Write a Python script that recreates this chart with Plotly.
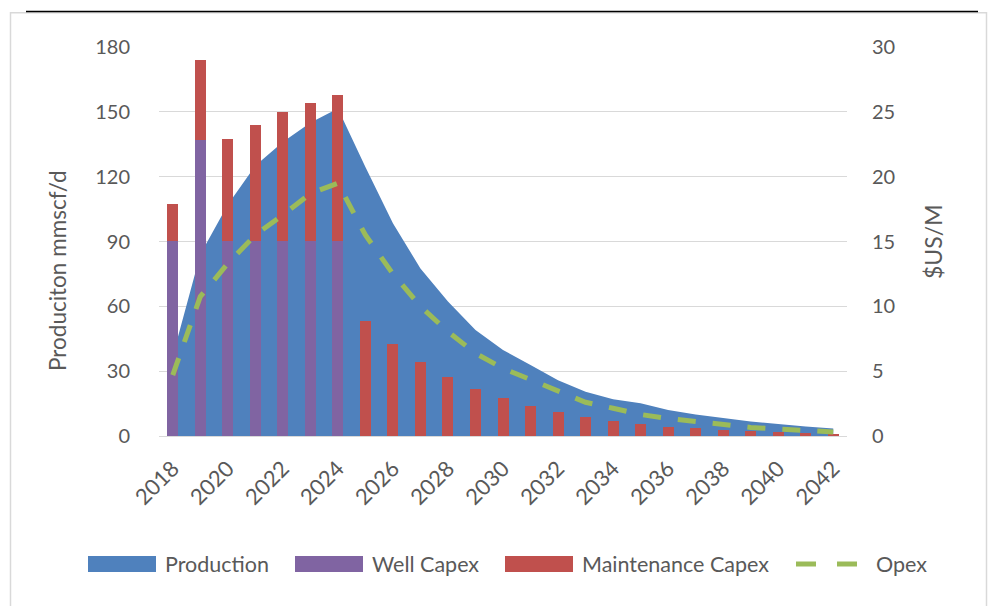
import plotly.graph_objects as go

years = list(range(2018, 2043))
production = [37, 84, 107, 125, 136, 145, 151.5, 124.5, 98.5, 77.5, 62.2, 49.1, 39.8, 32.9,
              25.8, 20.5, 17.0, 15.1, 12.0, 10.0, 8.3, 6.7, 5.5, 4.4, 3.5]
well_capex = [15.05, 22.8, 15.05, 15.05, 15.05, 15.05, 15.05] + [0] * 18
maint_capex = [2.85, 6.2, 7.85, 8.95, 9.9, 10.65, 11.25, 8.87, 7.12, 5.69, 4.53, 3.6, 2.9, 2.31,
               1.83, 1.47, 1.16, 0.95, 0.72, 0.59, 0.49, 0.39, 0.31, 0.23, 0.18]
opex = [4.7, 10.75, 13.3, 15.5, 17.05, 18.7, 19.5, 15.5, 12.5, 10.0, 8.05, 6.38, 5.22, 4.37,
        3.42, 2.6, 2.14, 1.66, 1.35, 1.12, 0.85, 0.66, 0.54, 0.39, 0.31]

left_ticks = [0, 30, 60, 90, 120, 150, 180]
right_ticks = [0, 5, 10, 15, 20, 25, 30]
x_ticks = list(range(2018, 2043, 2))

legend_labels = ["Production", "Well Capex", "Maintenance Capex", "Opex"]
legend_colors = ["#4F81BD", "#8064A2", "#C0504D", "#9BBB59"]
left_title = "Produciton mmscf/d"
right_title = "$US/M"

FONT = "Lato"
GREY = "#595959"

# plot-area geometry in pixels (used only to place decorations in paper coords)
PL, PR, PT, PB = 159, 847, 47, 436
def px(x):
    return (x - PL) / (PR - PL)
def py(y):
    return (PB - y) / (PB - PT)

fig = go.Figure()
fig.add_trace(go.Scatter(x=years, y=production, name=legend_labels[0], mode="none",
                         fill="tozeroy", fillcolor=legend_colors[0], yaxis="y"))
fig.add_trace(go.Bar(x=years, y=well_capex, name=legend_labels[1], marker_color=legend_colors[1],
                     marker_line_width=0, width=0.4, yaxis="y2"))
fig.add_trace(go.Bar(x=years, y=maint_capex, name=legend_labels[2], marker_color=legend_colors[2],
                     marker_line_width=0, width=0.4, yaxis="y2"))
fig.add_trace(go.Scatter(x=years, y=opex, name=legend_labels[3], mode="lines", yaxis="y2",
                         line=dict(color=legend_colors[3], width=5, dash="18px,17px")))

shapes = [
    dict(type="rect", xref="paper", yref="paper", x0=px(10.5), x1=px(986.5), y0=py(640), y1=py(12.7),
         line=dict(color="#D9D9D9", width=1.5), fillcolor="rgba(0,0,0,0)", layer="below"),
    dict(type="line", xref="paper", yref="paper", x0=px(26), x1=px(978), y0=py(11.5), y1=py(11.5),
         line=dict(color="black", width=1.5)),
]
annotations = [
    dict(text=left_title, xref="paper", yref="paper", x=px(57), y=py(270), textangle=-90,
         xanchor="center", yanchor="middle", showarrow=False,
         font=dict(family=FONT, size=22.5, color=GREY)),
    dict(text=right_title, xref="paper", yref="paper", x=px(933), y=py(242), textangle=-90,
         xanchor="center", yanchor="middle", showarrow=False,
         font=dict(family=FONT, size=23, color=GREY)),
]

# custom legend (swatch left edge, text left edge)
leg_swatch_x = [88, 295, 505, 795]
leg_text_x = [163, 370, 580, 874]
leg_y = 564
for i, lab in enumerate(legend_labels):
    if i < 3:
        shapes.append(dict(type="rect", xref="paper", yref="paper",
                           x0=px(leg_swatch_x[i]), x1=px(leg_swatch_x[i] + 68),
                           y0=py(leg_y + 8), y1=py(leg_y - 8),
                           line=dict(width=0), fillcolor=legend_colors[i]))
    else:
        for a, b in [(796, 816), (837, 857)]:
            shapes.append(dict(type="line", xref="paper", yref="paper",
                               x0=px(a), x1=px(b), y0=py(leg_y), y1=py(leg_y),
                               line=dict(color=legend_colors[i], width=5)))
    annotations.append(dict(text=lab, xref="paper", yref="paper", x=px(leg_text_x[i]), y=py(leg_y),
                            xanchor="left", yanchor="middle", showarrow=False,
                            font=dict(family=FONT, size=21.5, color=GREY)))

fig.update_layout(
    width=990, height=606,
    margin=dict(l=PL, r=990 - PR, t=PT, b=606 - PB),
    paper_bgcolor="white", plot_bgcolor="white",
    barmode="stack", showlegend=False,
    font=dict(family=FONT, size=19, color=GREY),
    xaxis=dict(range=[2017.5, 2042.5], tickvals=x_ticks, ticktext=[str(v) for v in x_ticks],
               tickangle=-45, showgrid=False, zeroline=False, showline=True,
               linecolor="#D9D9D9", linewidth=1, ticks="", ticklabelstandoff=10,
               tickfont=dict(size=22, color=GREY)),
    yaxis=dict(range=[0, 180], tickvals=left_ticks, showgrid=True, gridcolor="#D9D9D9",
               gridwidth=1, zeroline=False, showline=False, ticks="",
               ticklabelstandoff=28, tickfont=dict(size=20, color=GREY)),
    yaxis2=dict(range=[0, 30], tickvals=right_ticks, overlaying="y", side="right",
                showgrid=False, zeroline=False, showline=False, ticks="",
                ticklabelstandoff=24, tickfont=dict(size=20, color=GREY)),
    shapes=shapes,
    annotations=annotations,
)

fig.write_html("out.html")
